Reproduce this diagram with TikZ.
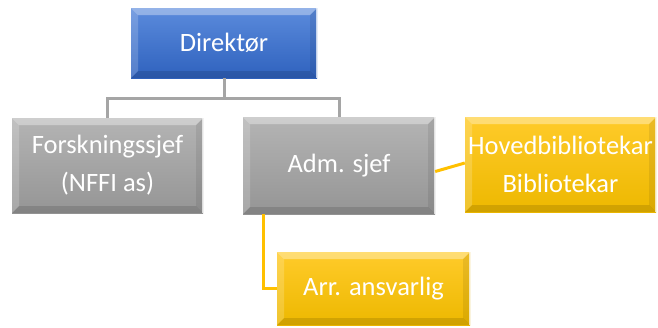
\documentclass[tikz,border=0pt]{standalone}
\usepackage{fontspec}
\setmainfont{Carlito}
\usetikzlibrary{positioning}
\definecolor{dirtop}{HTML}{5B8BDC}
\definecolor{dirbot}{HTML}{2F62BE}
\definecolor{graytop}{HTML}{B4B4B4}
\definecolor{graybot}{HTML}{959595}
\definecolor{goldtop}{HTML}{FFCB2A}
\definecolor{goldbot}{HTML}{EDB800}
\definecolor{grayline}{HTML}{A5A5A5}
\definecolor{goldline}{HTML}{FFC000}
\def\ppb{path picture bounding box}
\tikzset{
  bevel/.style={path picture={
    \fill[white,opacity=.35] (\ppb.north west) -- (\ppb.north east)
      -- ([shift={(-7pt,-7pt)}]\ppb.north east) -- ([shift={(7pt,-7pt)}]\ppb.north west) -- cycle;
    \fill[white,opacity=.18] (\ppb.north west) -- ([shift={(7pt,-7pt)}]\ppb.north west)
      -- ([shift={(7pt,7pt)}]\ppb.south west) -- (\ppb.south west) -- cycle;
    \fill[black,opacity=.12] (\ppb.south west) -- ([shift={(7pt,7pt)}]\ppb.south west)
      -- ([shift={(-7pt,7pt)}]\ppb.south east) -- (\ppb.south east) -- cycle;
    \fill[black,opacity=.08] (\ppb.north east) -- (\ppb.south east)
      -- ([shift={(-7pt,7pt)}]\ppb.south east) -- ([shift={(-7pt,-7pt)}]\ppb.north east) -- cycle;
    \draw[white,opacity=.7,line width=1pt] ([xshift=-.5pt]\ppb.north east) -- ([xshift=-.5pt]\ppb.south east);
  }},
  box/.style={rectangle,text=white,align=center,inner sep=0pt,
    font=\fontsize{26.5}{38}\selectfont,bevel},
  dirbox/.style={box,top color=dirtop,bottom color=dirbot},
  graybox/.style={box,top color=graytop,bottom color=graybot},
  goldbox/.style={box,top color=goldtop,bottom color=goldbot},
  grayconn/.style={draw=grayline,line width=3pt},
  goldconn/.style={draw=goldline,line width=3pt}
}
\begin{document}
\begin{tikzpicture}[x=1pt,y=1pt]
    \useasboundingbox (0,0) rectangle (658,-327);
    \node[dirbox, minimum width=186pt, minimum height=70pt] (dir) at (224,-43) {Direktør};
    \node[graybox, minimum width=191pt, minimum height=95pt] (fors) at (107.5,-165.5) {Forskningssjef\\(NFFI as)};
    \node[graybox, minimum width=192pt, minimum height=97pt] (adm) at (339,-165.5) {Adm. sjef};
    \node[goldbox, minimum width=191pt, minimum height=95pt] (hoved) at (560.5,-164.5) {Hovedbibliotekar\\Bibliotekar};
    \node[goldbox, minimum width=193pt, minimum height=73pt] (arr) at (373.5,-288.5) {Arr. ansvarlig};

    % connectors
    \path[grayconn] (dir.south) -- ++(0,-20) -| (fors.north);
    \path[grayconn] (dir.south) -- ++(0,-20) -| (adm.north);
    \path[goldconn] ([yshift=-6pt]adm.east) -- ([yshift=1.5pt]hoved.west);
    \path[goldconn] ([xshift=-76pt]adm.south) |- (arr.west);
\end{tikzpicture}
\end{document}
